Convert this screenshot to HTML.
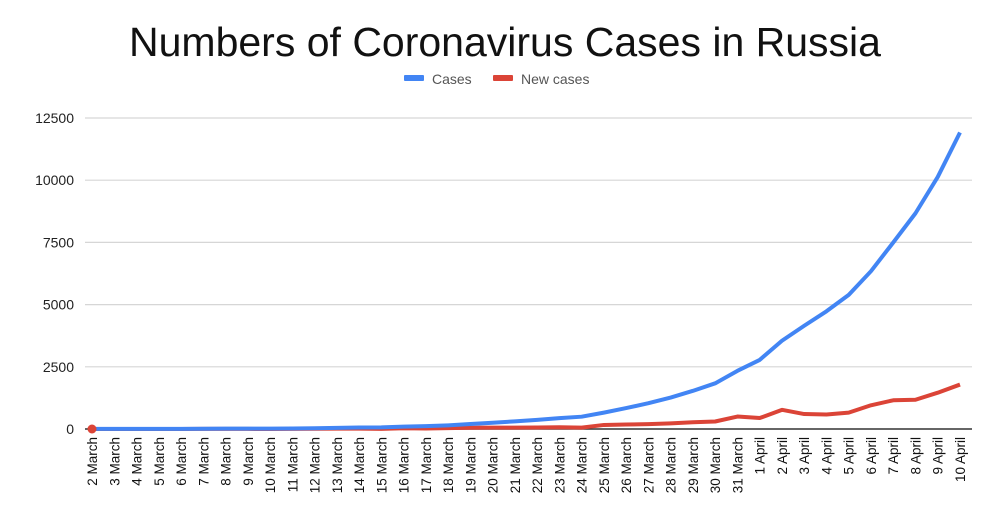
<!DOCTYPE html>
<html><head><meta charset="utf-8"><style>
body{margin:0;background:#fff;font-family:"Liberation Sans",Arial,sans-serif}
svg text{font-family:"Liberation Sans",Arial,sans-serif}
</style></head><body>
<svg width="1000" height="516" id="chart">
<text x="505" y="56" text-anchor="middle" font-size="41" fill="#111">Numbers of Coronavirus Cases in Russia</text>
<g>
<rect x="404" y="75" width="20" height="6" rx="1" fill="#4285f4"/>
<text x="432" y="84" font-size="14" fill="#555">Cases</text>
<rect x="493" y="75" width="20" height="6" rx="1" fill="#db4437"/>
<text x="521" y="84" font-size="14" fill="#555">New cases</text>
</g>
<g id="grid"></g><g id="xl"></g><g id="lines"></g>
</svg>
<script>
const categories=["2 March","3 March","4 March","5 March","6 March","7 March","8 March","9 March","10 March","11 March","12 March","13 March","14 March","15 March","16 March","17 March","18 March","19 March","20 March","21 March","22 March","23 March","24 March","25 March","26 March","27 March","28 March","29 March","30 March","31 March","1 April","2 April","3 April","4 April","5 April","6 April","7 April","8 April","9 April","10 April"];
const cases=[3,3,3,3,4,10,14,17,17,20,28,45,59,63,93,114,147,199,253,306,367,438,495,658,840,1036,1264,1534,1836,2337,2777,3548,4149,4731,5389,6343,7497,8672,10131,11917];
const newCases=[0,0,0,0,1,6,4,3,0,3,8,17,14,4,30,21,33,52,54,53,61,71,57,163,182,196,228,270,302,501,440,771,601,582,658,954,1154,1175,1459,1786];
const yTicks=[0,2500,5000,7500,10000,12500];
const NS="http://www.w3.org/2000/svg";
const x0=92,x1=960,y0=429,yTop=118,yMax=12500;
const xs=i=>x0+i*(x1-x0)/(categories.length-1);
const ys=v=>y0-v*(y0-yTop)/yMax;
const grid=document.getElementById('grid');
yTicks.forEach(t=>{
 const l=document.createElementNS(NS,'line');
 l.setAttribute('x1',85);l.setAttribute('x2',972);
 l.setAttribute('y1',ys(t));l.setAttribute('y2',ys(t));
 l.setAttribute('stroke',t===0?'#333':'#d6d6d6');l.setAttribute('stroke-width',t===0?1.5:1.2);
 
 
 grid.appendChild(l);
 const tx=document.createElementNS(NS,'text');
 tx.setAttribute('x',74);tx.setAttribute('y',ys(t)+5);tx.setAttribute('text-anchor','end');
 tx.setAttribute('font-size','14');tx.setAttribute('fill','#222');
 tx.textContent=t;
 
 
 grid.appendChild(tx);
});
const xl=document.getElementById('xl');
categories.forEach((c,i)=>{
 const tx=document.createElementNS(NS,'text');
 const x=xs(i)+5,y=437;
 tx.setAttribute('transform','translate('+x+','+y+') rotate(-90)');
 tx.setAttribute('text-anchor','end');tx.setAttribute('font-size','13.5');tx.setAttribute('fill','#111');
 tx.textContent=c;
 
 
 xl.appendChild(tx);
});
const lines=document.getElementById('lines');
function draw(arr,color,name){
 const p=document.createElementNS(NS,'polyline');
 p.setAttribute('points',arr.map((v,i)=>xs(i)+','+ys(v)).join(' '));
 p.setAttribute('fill','none');p.setAttribute('stroke',color);p.setAttribute('stroke-width',4);
 p.setAttribute('stroke-linejoin','round');
 
 
 lines.appendChild(p);
}
draw(newCases,'#db4437','new-cases-line');
draw(cases,'#4285f4','cases-line');
const d=document.createElementNS(NS,'circle');
d.setAttribute('cx',xs(0));d.setAttribute('cy',ys(newCases[0]));d.setAttribute('r',4.5);d.setAttribute('fill','#db4437');


lines.appendChild(d);
</script>
</body></html>
